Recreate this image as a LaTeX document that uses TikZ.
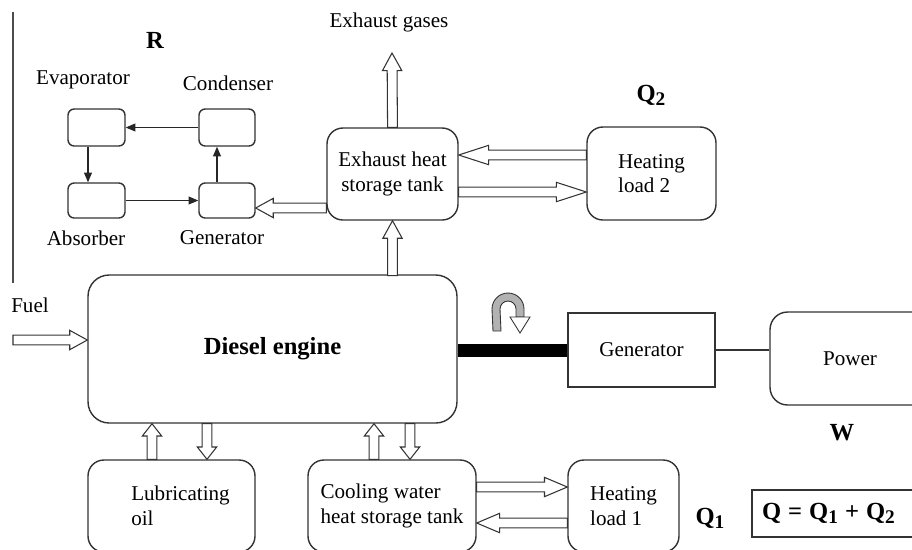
\documentclass[tikz,border=0pt]{standalone}
\usepackage{fontspec}
\setmainfont{Liberation Serif}
\usetikzlibrary{arrows.meta,positioning,calc}
\newcommand{\qsub}[1]{Q\raisebox{-0.35ex}{\fontsize{11}{11}\selectfont #1}}

\begin{document}
\begin{tikzpicture}[
  x=0.02cm, y=-0.02cm,
  every node/.style={font=\fontsize{12}{14}\selectfont},
  box/.style={draw=black!80, line width=0.8pt, rounded corners=#1, inner sep=0pt},
  box/.default=8pt,
  gbox/.style={draw=black!80, line width=0.8pt, inner sep=0pt},
  lbl/.style={inner sep=1pt},
  big/.style={font=\fontsize{14}{16}\selectfont\bfseries},
  thin/.style={black!85, line width=0.6pt, -{Triangle[length=5.5pt, width=4.5pt]}},
  fatarrow/.style={draw=black!80, fill=white, line width=0.6pt,
    to path={let \p1=(\tikztostart), \p2=(\tikztotarget),
      \n1={atan2(\y2-\y1,\x2-\x1)}, \n2={veclen(\x2-\x1,\y2-\y1)} in
      [shift={(\p1)}, rotate=\n1]
      (0pt,-2.8pt) -- ({(\n2-#1)*1pt},-2.8pt) -- ({(\n2-#1)*1pt},-5.5pt)
      -- ({\n2*1pt},0pt) -- ({(\n2-#1)*1pt},5.5pt) -- ({(\n2-#1)*1pt},2.8pt)
      -- (0pt,2.8pt) -- cycle}},
  fatarrow/.default=10
]
\useasboundingbox (0,0) rectangle (912,549);

% separator of the refrigeration part
\draw[black!70, line width=0.6pt] (13,12) -- (13,283);

% absorption chiller R
\node[big] (rlbl) at (155,40) {R};
\node[box=3.5pt, minimum width=1.14cm, minimum height=0.74cm] (evap) at (96.5,127.5) {};
\node[box=3.5pt, minimum width=1.12cm, minimum height=0.74cm] (cond) at (227,127.5) {};
\node[box=3.5pt, minimum width=1.14cm, minimum height=0.70cm] (absb) at (96.5,200.5) {};
\node[box=3.5pt, minimum width=1.12cm, minimum height=0.70cm] (genr) at (227,200.5) {};
\node[lbl] (evaplbl) at (83,80) {Evaporator};
\node[lbl] (condlbl) at (228,83) {Condenser};
\node[lbl] (absblbl) at (86,238) {Absorber};
\node[lbl] (genrlbl) at (222,238) {Generator};
\draw[thin] (cond.west) -- (evap.east);
\draw[thin] ($(evap.south)+(-8.5,0)$) -- ($(absb.north)+(-8.5,0)$);
\draw[thin] (absb.east) -- (genr.west);
\draw[thin] ($(genr.north)+(-10,0)$) -- ($(cond.south)+(-10,0)$);

% exhaust side
\node[lbl] (exh) at (389,22) {Exhaust gases};
\coordinate (exhtip) at (392,53);
\node[box=9pt, minimum width=2.62cm, minimum height=1.84cm, align=center] (tank)
  at (392.5,174) {Exhaust heat\\storage tank};
\node[box=9pt, minimum width=2.58cm, minimum height=1.86cm, align=left] (load2)
  at (651.5,173.5) {Heating\\load 2};
\node[big] (q2) at (651,95) {\qsub{2}};

% engine and loads
\node[lbl] (fuel) at (30,305) {Fuel};
\coordinate (fuelin) at (13,340);
\node[box=12pt, minimum width=7.38cm, minimum height=2.96cm] (engine)
  at (272.5,349) {\fontsize{14}{16}\selectfont\bfseries Diesel engine};
\node[box=9pt, minimum width=3.34cm, minimum height=1.84cm,
  label={[align=left, xshift=0.18cm]center:Lubricating\\oil}] (lube) at (171.5,506) {};
\node[box=9pt, minimum width=3.36cm, minimum height=1.84cm, align=left] (cool)
  at (392,506) {Cooling water\\heat storage tank};
\node[box=9pt, minimum width=2.22cm, minimum height=1.84cm, align=left] (load1)
  at (623.5,506) {Heating\\load 1};
\node[big] (q1) at (710,518) {\qsub{1}};

% generator and power
\node[gbox, minimum width=2.94cm, minimum height=1.48cm] (gen) at (641.5,350) {Generator};
\node[box=10pt, minimum width=3.2cm, minimum height=1.86cm] (power) at (850,358.5) {Power};
\node[big] (w) at (842,433) {W};
\node[gbox, minimum height=0.94cm, text width=3.16cm, inner xsep=0.2cm, align=left]
  (qsum) at (841,513.5) {\fontsize{14}{16}\selectfont\bfseries Q = \qsub{1} + \qsub{2}};

% shaft and rotation
\draw[black, line width=7.4pt] (gen.west -| engine.east) -- (gen.west);
\draw[black!80, fill=black!30, line width=0.5pt]
  (493,331) -- (492,309) arc[start angle=180, end angle=360, radius=16]
  -- (524,317) -- (516,317) -- (516,309) arc[start angle=360, end angle=180, radius=8]
  -- (501,331) -- cycle;
\draw[black!80, fill=white, line width=0.5pt]
  (510,317) -- (530,317) -- (520,333) -- cycle;
\draw[black!80, line width=0.6pt] (gen.east) -- (power.west |- gen.east);

% heat flows
\draw[fatarrow] (tank.north) to (exhtip);
\draw[fatarrow] ($(engine.south)+(120,-148)$) to (tank.south);
\draw[fatarrow] ($(tank.west)+(0,34)$) to ($(genr.east)+(0,7.5)$);
\draw[fatarrow=17] ($(load2.west)+(0,-18.5)$) to ($(tank.east)+(0,-19)$);
\draw[fatarrow=17] ($(tank.east)+(0,18)$) to ($(load2.west)+(0,18.5)$);
\draw[fatarrow] (fuelin) to ($(engine.west)+(0,-9)$);
\draw[fatarrow=7] ($(lube.north)+(-19.5,0)$) to ($(engine.south)+(-120.5,0)$);
\draw[fatarrow=7] ($(engine.south)+(-65.5,0)$) to ($(lube.north)+(35.5,0)$);
\draw[fatarrow=7] ($(cool.north)+(-18,0)$) to ($(engine.south)+(101.5,0)$);
\draw[fatarrow=7] ($(engine.south)+(137.5,0)$) to ($(cool.north)+(18,0)$);
\draw[fatarrow=13] ($(cool.east)+(0,-19)$) to ($(load1.west)+(0,-19)$);
\draw[fatarrow=13] ($(load1.west)+(0,17)$) to ($(cool.east)+(0,17)$);
\end{tikzpicture}
\end{document}
